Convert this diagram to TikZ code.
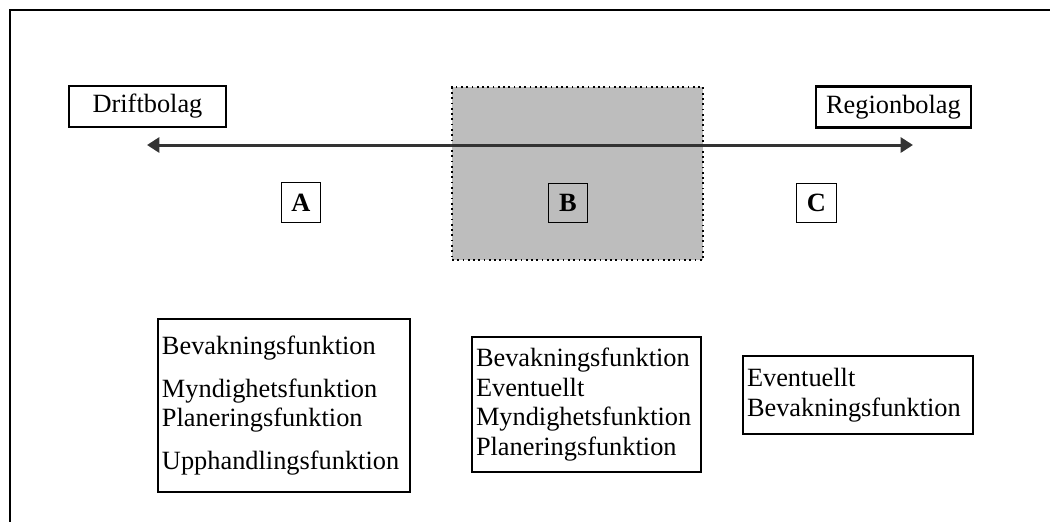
\documentclass[tikz,border=0pt]{standalone}
\usepackage{fontspec}
\setmainfont{Liberation Serif}
\usetikzlibrary{arrows.meta, positioning}

\begin{document}
\begin{tikzpicture}[x=0.2mm, y=-0.2mm,
    font=\fontsize{15}{17}\selectfont,
    endbox/.style={draw, line width=1.6pt, minimum height=8.2mm, inner sep=0pt},
    letterbox/.style={draw, line width=0.8pt, minimum size=7.9mm, inner sep=0pt,
        font=\fontsize{15}{17}\selectfont\bfseries},
    funcbox/.style={draw, line width=0.7pt, align=left, inner xsep=0.8mm, inner ysep=0pt}]
    \useasboundingbox (0,0) rectangle (1050,521);
    \clip (0,0) rectangle (1050,521);

    % outer frame (cut off at right and bottom)
    \draw[line width=0.9pt] (10,10) rectangle (1080,550);

    % shaded middle zone
    \node[draw, dotted, line width=1pt, fill=black!26, minimum width=50.2mm,
        minimum height=34.6mm, inner sep=0pt] (zoneB) at (577.5,173.5) {};

    \node[endbox, minimum width=31.4mm] (drift) at (147.5,106.5) {Driftbolag};
    \node[endbox, minimum width=31mm] (region) at (893.5,107) {Regionbolag};

    \coordinate (west) at (147,145);
    \coordinate (east) at (913,145);
    \draw[{Triangle[length=7pt,width=8.5pt]}-{Triangle[length=7pt,width=8.5pt]},
        line width=1.7pt, black!80] (west) -- (east);

    \node[letterbox] (A) at (301,202.5) {A};
    \node[letterbox] (B) at (568,203) {B};
    \node[letterbox] (C) at (816.5,203) {C};

    \node[funcbox, text width=48.8mm, minimum height=34.6mm] (listA) at (284,405.5)
        {Bevakningsfunktion\\[7pt]Myndighetsfunktion\\Planeringsfunktion\\[7pt]Upphandlingsfunktion};
    \node[funcbox, text width=44.2mm, minimum height=27mm] (listB) at (586.5,404.5)
        {Bevakningsfunktion\\Eventuellt\\Myndighetsfunktion\\Planeringsfunktion};
    \node[funcbox, text width=44.4mm, minimum height=15.6mm] (listC) at (858,395)
        {Eventuellt\\Bevakningsfunktion};
\end{tikzpicture}
\end{document}
